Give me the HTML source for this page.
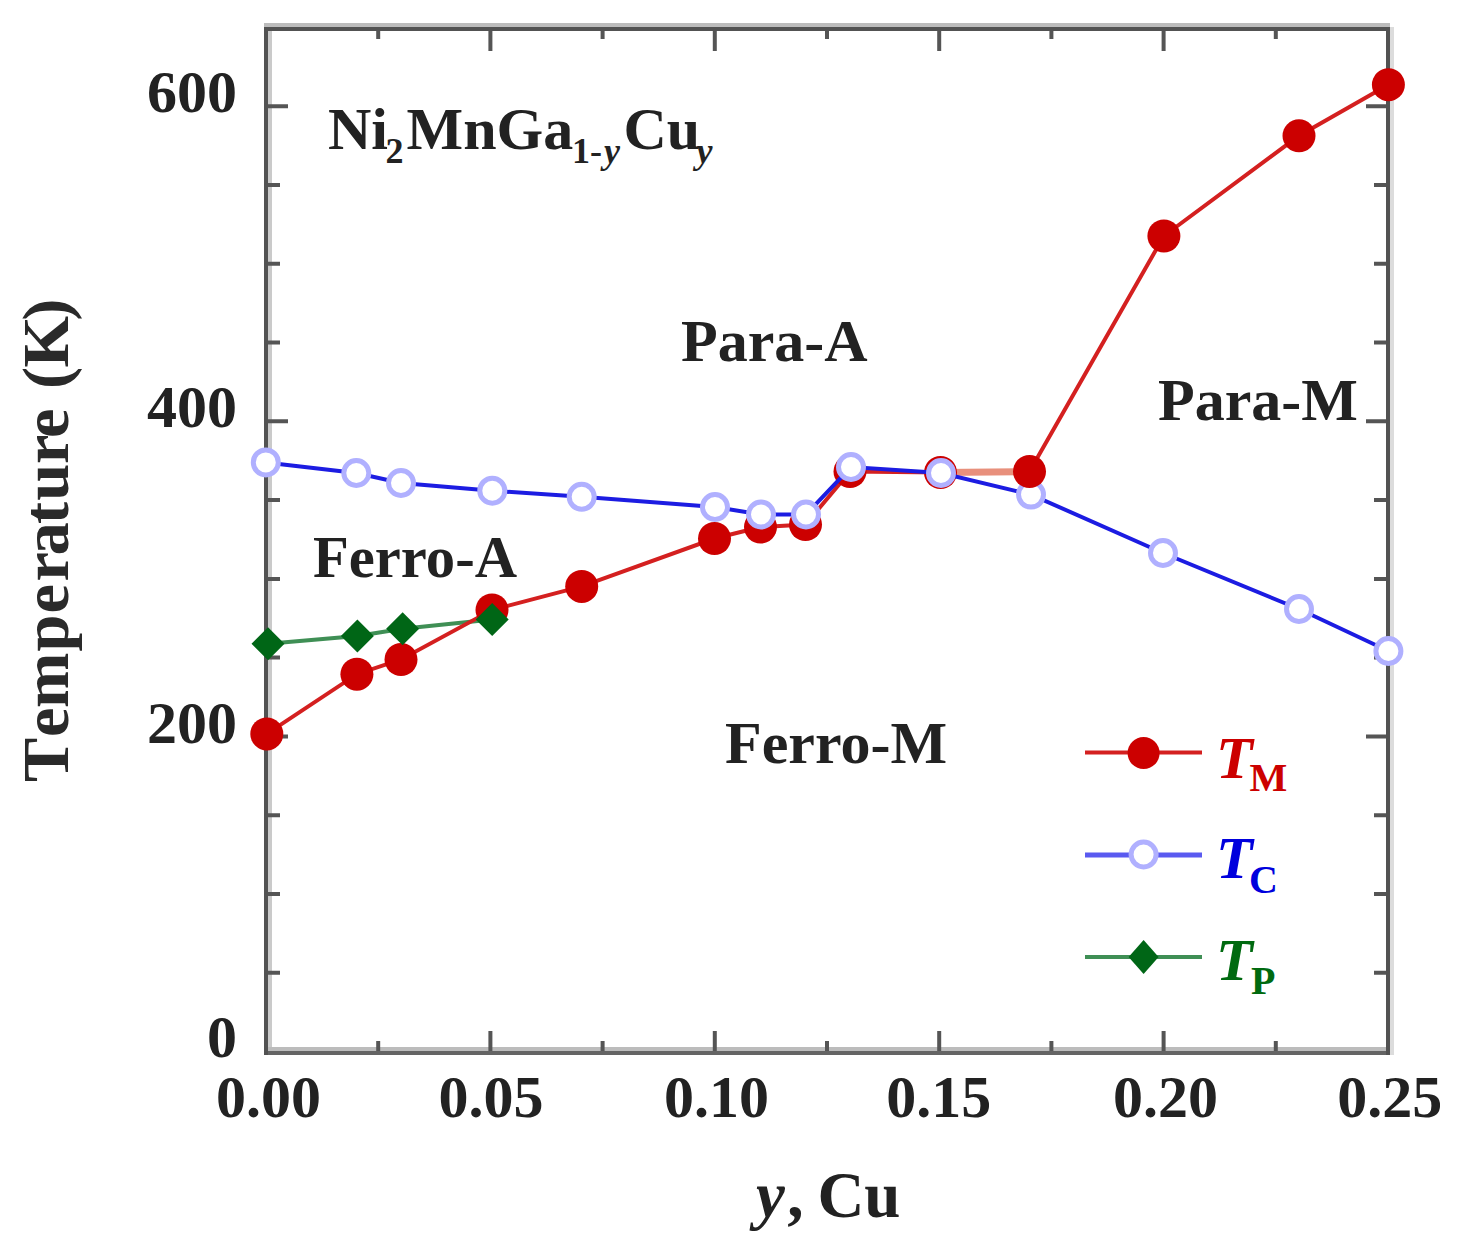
<!DOCTYPE html>
<html><head><meta charset="utf-8"><style>
html,body{margin:0;padding:0;background:#fff;}
svg{display:block;}
</style></head><body>
<svg width="1457" height="1255" viewBox="0 0 1457 1255">
<rect width="1457" height="1255" fill="#fff"/>
<rect x="264" y="23" width="1126" height="4" fill="#bcbcbc"/>
<rect x="268" y="31" width="4" height="1016" fill="#cacaca"/>
<rect x="1390" y="27" width="4" height="1028" fill="#dcdcdc"/>
<rect x="268" y="1047" width="1118" height="4" fill="#bcbcbc"/>
<path d="M266 972.7h14 M1388 972.7h-14 M266 894.0h14 M1388 894.0h-14 M266 815.2h14 M1388 815.2h-14 M266 736.4h22 M1388 736.4h-22 M266 657.6h14 M1388 657.6h-14 M266 578.9h14 M1388 578.9h-14 M266 500.1h14 M1388 500.1h-14 M266 421.3h22 M1388 421.3h-22 M266 342.5h14 M1388 342.5h-14 M266 263.8h14 M1388 263.8h-14 M266 185.0h14 M1388 185.0h-14 M266 106.2h22 M1388 106.2h-22 M378.2 29v10 M378.2 1053v-12 M490.4 29v22 M490.4 1053v-22 M602.6 29v10 M602.6 1053v-12 M714.8 29v22 M714.8 1053v-22 M827.0 29v10 M827.0 1053v-12 M939.2 29v22 M939.2 1053v-22 M1051.4 29v10 M1051.4 1053v-12 M1163.6 29v22 M1163.6 1053v-22 M1275.8 29v10 M1275.8 1053v-12" stroke="#555" stroke-width="4" fill="none"/>
<path d="M264 29H1390M266 27V1055M1388 27V1055" stroke="#525252" stroke-width="4" fill="none"/>
<path d="M268 1053H1386" stroke="#646464" stroke-width="4" fill="none"/>
<polyline points="268.0,643.8 357.4,635.9 402.6,628.7 492.2,619.4" fill="none" stroke="#3f8f55" stroke-width="4"/>
<polyline points="266.8,733.9 356.9,674.2 401.0,659.5 492.0,610.0 581.7,586.4 714.5,538.5 760.5,527.0 805.5,524.5 850.0,471.5 940.5,472.5" fill="none" stroke="#d42020" stroke-width="4"/>
<polyline points="940.5,472.5 1029.5,471.5" fill="none" stroke="#e8907c" stroke-width="7"/>
<polyline points="1029.5,471.5 1163.9,236.0 1299.0,135.8 1388.4,84.7" fill="none" stroke="#d42020" stroke-width="4"/>
<circle cx="266.8" cy="733.9" r="16.5" fill="#cc0000"/>
<circle cx="356.9" cy="674.2" r="16.5" fill="#cc0000"/>
<circle cx="401" cy="659.5" r="16.5" fill="#cc0000"/>
<circle cx="492" cy="610" r="16.5" fill="#cc0000"/>
<circle cx="581.7" cy="586.4" r="16.5" fill="#cc0000"/>
<circle cx="714.5" cy="538.5" r="16.5" fill="#cc0000"/>
<circle cx="760.5" cy="527" r="16.5" fill="#cc0000"/>
<circle cx="805.5" cy="524.5" r="16.5" fill="#cc0000"/>
<circle cx="850" cy="471.5" r="16.5" fill="#cc0000"/>
<circle cx="940.5" cy="472.5" r="16.5" fill="#cc0000"/>
<polyline points="265.8,462.4 356.3,473.0 401.0,483.0 492.3,490.7 581.7,496.8 715.0,507.0 761.0,514.5 806.0,514.5 851.0,467.0 941.0,473.0 1031.0,494.6 1163.0,553.0 1299.0,609.0 1388.4,651.0" fill="none" stroke="#1c1ce2" stroke-width="4"/>
<circle cx="265.8" cy="462.4" r="12.5" fill="#fff" stroke="#b0b0ff" stroke-width="5"/>
<circle cx="356.3" cy="473" r="12.5" fill="#fff" stroke="#b0b0ff" stroke-width="5"/>
<circle cx="401" cy="483" r="12.5" fill="#fff" stroke="#b0b0ff" stroke-width="5"/>
<circle cx="492.3" cy="490.7" r="12.5" fill="#fff" stroke="#b0b0ff" stroke-width="5"/>
<circle cx="581.7" cy="496.8" r="12.5" fill="#fff" stroke="#b0b0ff" stroke-width="5"/>
<circle cx="715" cy="507" r="12.5" fill="#fff" stroke="#b0b0ff" stroke-width="5"/>
<circle cx="761" cy="514.5" r="12.5" fill="#fff" stroke="#b0b0ff" stroke-width="5"/>
<circle cx="806" cy="514.5" r="12.5" fill="#fff" stroke="#b0b0ff" stroke-width="5"/>
<circle cx="851" cy="467" r="12.5" fill="#fff" stroke="#b0b0ff" stroke-width="5"/>
<circle cx="941" cy="473" r="12.5" fill="#fff" stroke="#b0b0ff" stroke-width="5"/>
<circle cx="1031" cy="494.6" r="12.5" fill="#fff" stroke="#b0b0ff" stroke-width="5"/>
<circle cx="1163" cy="553" r="12.5" fill="#fff" stroke="#b0b0ff" stroke-width="5"/>
<circle cx="1299" cy="609" r="12.5" fill="#fff" stroke="#b0b0ff" stroke-width="5"/>
<circle cx="1388.4" cy="651" r="12.5" fill="#fff" stroke="#b0b0ff" stroke-width="5"/>
<circle cx="1029.5" cy="471.5" r="16.5" fill="#cc0000"/>
<circle cx="1163.9" cy="236" r="16.5" fill="#cc0000"/>
<circle cx="1299" cy="135.8" r="16.5" fill="#cc0000"/>
<circle cx="1388.4" cy="84.7" r="16.5" fill="#cc0000"/>
<path d="M268 627.3l16.5 16.5l-16.5 16.5l-16.5 -16.5z" fill="#006616"/>
<path d="M357.4 619.4l16.5 16.5l-16.5 16.5l-16.5 -16.5z" fill="#006616"/>
<path d="M402.6 612.2l16.5 16.5l-16.5 16.5l-16.5 -16.5z" fill="#006616"/>
<path d="M492.2 602.9l16.5 16.5l-16.5 16.5l-16.5 -16.5z" fill="#006616"/>
<path d="M1085 752.5h117" stroke="#d42020" stroke-width="4"/>
<circle cx="1143.6" cy="753" r="16" fill="#cc0000"/>
<path d="M1085 855h117" stroke="#5a5af0" stroke-width="5"/>
<circle cx="1143.6" cy="854.5" r="12.5" fill="#fff" stroke="#b0b0ff" stroke-width="5"/>
<path d="M1085 957h117" stroke="#3f8f55" stroke-width="4"/>
<path d="M1143.6 940l15 17l-15 17l-15 -17z" fill="#006616"/>

<g font-family="'Liberation Serif', serif" font-weight="bold" font-size="60" fill="#222">
<text x="237" y="112" text-anchor="end">600</text>
<text x="237" y="427" text-anchor="end">400</text>
<text x="237" y="743" text-anchor="end">200</text>
<text x="237" y="1057" text-anchor="end">0</text>
<text x="268.5" y="1117" text-anchor="middle">0.00</text>
<text x="491" y="1117" text-anchor="middle">0.05</text>
<text x="716.6" y="1117" text-anchor="middle">0.10</text>
<text x="938.8" y="1117" text-anchor="middle">0.15</text>
<text x="1165.5" y="1117" text-anchor="middle">0.20</text>
<text x="1389.8" y="1117" text-anchor="middle">0.25</text>
<text x="681" y="361">Para-A</text>
<text x="1158" y="420">Para-M</text>
<text x="313" y="577" textLength="204" lengthAdjust="spacingAndGlyphs">Ferro-A</text>
<text x="725" y="763">Ferro-M</text>
<text x="328" y="149">Ni</text><text x="385.5" y="162.5" font-size="36">2</text><text x="406.5" y="149">MnGa</text><text x="572" y="162.5" font-size="36">1-</text><text x="604" y="162.5" font-size="36" font-style="italic">y</text><text x="623.5" y="149">Cu</text><text x="696.5" y="162.5" font-size="36" font-style="italic">y</text>
</g>
<g font-family="'Liberation Serif', serif" font-weight="bold" font-size="66.5" fill="#2a2a2a">
<text transform="translate(68,780.7) rotate(-90)" x="-1.3 43.7 72.7 129.1 167.1 199.3 225.3 256.7 279.9 316.6 342.7 367.2 391.7 413.0 460.0" y="0">Temperature (K)</text>
</g>
<g font-family="'Liberation Serif', serif" font-weight="bold" font-size="65" fill="#222">
<text x="756" y="1217" font-style="italic">y</text><text x="787.3" y="1217">,</text><text x="817.4" y="1217">Cu</text>
</g>
<g font-family="'Liberation Serif', serif" font-weight="bold">
<text x="1216" y="777.5" fill="#cc0000" font-size="60" font-style="italic">T</text>
<text x="1249.5" y="791" fill="#cc0000" font-size="40">M</text>
<text x="1216" y="877.5" fill="#0000dd" font-size="60" font-style="italic">T</text>
<text x="1249" y="892.5" fill="#0000dd" font-size="40">C</text>
<text x="1216" y="979.5" fill="#006a10" font-size="60" font-style="italic">T</text>
<text x="1251" y="993.5" fill="#006a10" font-size="40">P</text>
</g>

</svg>
</body></html>
